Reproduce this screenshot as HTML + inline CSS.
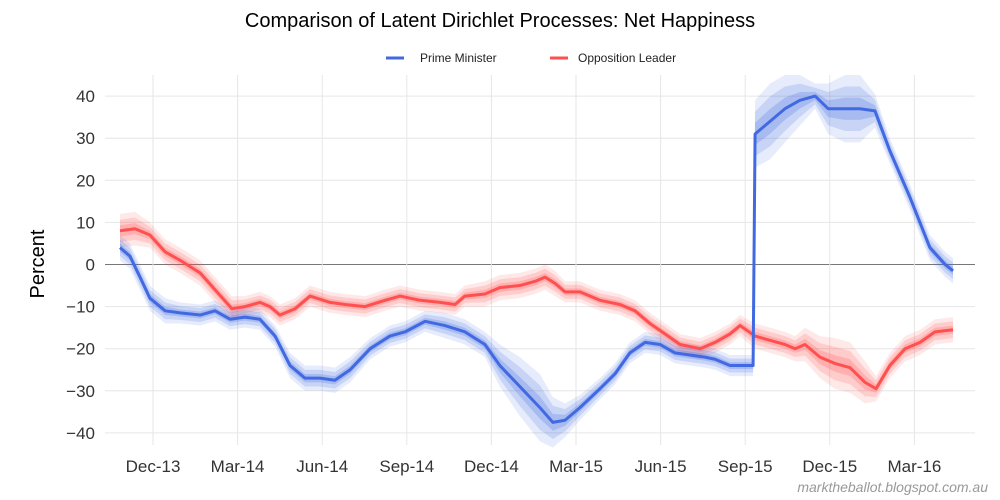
<!DOCTYPE html>
<html><head><meta charset="utf-8"><style>
body{margin:0;background:#fff;font-family:"Liberation Sans",sans-serif}
svg{display:block}
</style></head><body>
<svg id="c" width="1000" height="500">
<text x="500" y="27" text-anchor="middle" font-size="20" fill="#000">Comparison of Latent Dirichlet Processes: Net Happiness</text>
<g>
<g><line x1="386" y1="58" x2="404" y2="58" stroke="#4169e1" stroke-width="3"/><text x="420" y="62" font-size="12" fill="#222">Prime Minister</text></g>
<g><line x1="550" y1="58" x2="568" y2="58" stroke="#ff5050" stroke-width="3"/><text x="578" y="62" font-size="12" fill="#222">Opposition Leader</text></g>
</g>
<text transform="translate(44,264) rotate(-90)" text-anchor="middle" font-size="20" fill="#000">Percent</text>
<text x="988" y="492" text-anchor="end" font-size="14" font-style="italic" fill="#999">marktheballot.blogspot.com.au</text>
<g id="grid"></g><g id="bands"></g><g id="lines"></g><g id="ticks"></g>
</svg>
<script>
const yTicks=[-40,-30,-20,-10,0,10,20,30,40];
const xTickMonths=[0,3,6,9,12,15,18,21,24,27];
const xTickLabels=["Dec-13","Mar-14","Jun-14","Sep-14","Dec-14","Mar-15","Jun-15","Sep-15","Dec-15","Mar-16"];
const pmMonths=[-1.17,-0.82,-0.46,-0.11,0.43,0.96,1.67,2.2,2.73,3.26,3.79,4.33,4.86,5.39,5.92,6.45,6.99,7.7,8.4,8.94,9.65,10.35,11.06,11.77,12.3,13.01,13.72,14.18,14.61,15.14,15.85,16.38,16.91,17.45,17.98,18.51,19.04,19.57,19.93,20.46,21.28,21.35,21.88,22.41,22.94,23.48,23.94,24.54,25.07,25.6,26.13,26.84,27.55,28.09,28.37];
const pmValues=[4,2,-3,-8,-11,-11.5,-12,-11,-13,-12.5,-13,-17,-24,-27,-27,-27.5,-25,-20,-17,-16,-13.5,-14.5,-16,-19,-24,-29,-34,-37.5,-37,-34,-29.5,-26,-21,-18.5,-19,-21,-21.5,-22,-22.5,-24,-24,31,34,37,39,40,37,37,37,36.5,27,16,4,0,-1.5];
const pmWidth=[3,3,3,3,3,2.5,2.5,2.5,2.5,2.5,2.5,2.5,3,3,3,3,3,2.5,2.5,2.5,2.5,3,3,3,5,7,8,6,4,3,2.5,2.5,2.5,2.5,2.5,2.5,2.5,2.5,2.5,2.5,2.5,8,9,8,6,3,6,8,8,4,3,3,3,3,3];
const oppMonths=[-1.17,-0.64,-0.11,0.43,0.96,1.67,2.2,2.8,3.26,3.79,4.15,4.5,5.04,5.57,6.28,6.81,7.52,8.23,8.76,9.47,10.18,10.71,11.06,11.77,12.3,13.01,13.55,13.9,14.26,14.61,15.14,15.85,16.56,17.09,17.62,18.16,18.69,19.4,19.93,20.46,20.82,21.35,21.88,22.41,22.77,23.12,23.65,24.18,24.72,25.25,25.64,26.13,26.67,27.2,27.73,28.37];
const oppValues=[8,8.5,7,3,1,-2,-6,-10.5,-10,-9,-10,-12,-10.5,-7.5,-9,-9.5,-10,-8.5,-7.5,-8.5,-9,-9.5,-7.5,-7,-5.5,-5,-4,-3,-4.5,-6.5,-6.5,-8.5,-9.5,-11,-14,-16.5,-19,-20,-18.5,-16.5,-14.5,-17,-18,-19,-20,-19,-22,-23.5,-24.5,-28,-29.5,-24,-20,-18.5,-16,-15.5];
const oppWidth=[4,4,3,3,3,3,3,3,2.5,2.5,2.5,2.5,2.5,2.5,2.5,2.5,2.5,2.5,2.5,2.5,2.5,2.5,2.5,3,3,3,3,3,3,2.5,2.5,2.5,2.5,2.5,2.5,2.5,2.5,2.5,2.5,2.5,2.5,3,3,3,3,4,5,6,6,5,3,3,3,3,3,3];
const NS="http://www.w3.org/2000/svg";
const X=m=>153+m*28.2, Y=v=>264.5-v*4.21;
function mk(t,a,p){const e=document.createElementNS(NS,t);for(const k in a)e.setAttribute(k,a[k]);p.appendChild(e);return e;}
const grid=document.getElementById('grid'),ticks=document.getElementById('ticks');
yTicks.forEach(v=>{
 const l=mk('line',{x1:105,x2:975,y1:Y(v),y2:Y(v),stroke:v===0?'#777':'#e6e6e6','stroke-width':1},grid);
 
 
 const t=mk('text',{x:95,y:Y(v)+6,'text-anchor':'end','font-size':17,fill:'#333'},ticks);
 t.textContent=(v<0?'\u2212':'')+Math.abs(v);
 
 
});
xTickMonths.forEach((m,i)=>{
 const l=mk('line',{x1:X(m),x2:X(m),y1:75,y2:445,stroke:'#e6e6e6','stroke-width':1},grid);
 
 
 const t=mk('text',{x:X(m),y:472,'text-anchor':'middle','font-size':17,fill:'#333'},ticks);
 t.textContent=xTickLabels[i];
 
 
});
function series(ms,vs,ws,col,name){
 const bands=document.getElementById('bands'),lines=document.getElementById('lines');
 [1,0.66,0.33].forEach((f,k)=>{
  let up=ms.map((m,i)=>X(m)+','+Y(vs[i]+ws[i]*f));
  let dn=ms.map((m,i)=>X(m)+','+Y(vs[i]-ws[i]*f)).reverse();
  const p=mk('polygon',{points:up.concat(dn).join(' '),fill:col,'fill-opacity':0.13+k*0.05},bands);
  
  
 });
 const pl=mk('polyline',{points:ms.map((m,i)=>X(m)+','+Y(vs[i])).join(' '),fill:'none',stroke:col,'stroke-width':3,'stroke-linejoin':'round'},lines);
 
 
}
series(oppMonths,oppValues,oppWidth,'#ff5050','opposition-leader');
series(pmMonths,pmValues,pmWidth,'#4169e1','prime-minister');
</script>
</body></html>
